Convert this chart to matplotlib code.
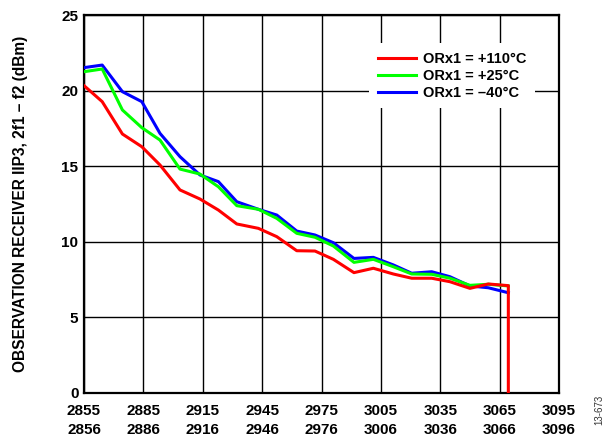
from matplotlib import pyplot as plt
import numpy as np

freq = [2855, 2864.2, 2874.4, 2884.2, 2893.4, 2903.5, 2913.6, 2922.9, 2932.2,
        2943.1, 2952.4, 2962.5, 2971.7, 2981.0, 2991.4, 3001.2, 3011.3, 3020.6,
        3030.7, 3039.9, 3050.0, 3059.3, 3069.4]

# IIP3 (dBm) per temperature
iip3_hot = [20.33, 19.27, 17.13, 16.29, 15.08, 13.43, 12.83, 12.1, 11.18,
            10.89, 10.34, 9.41, 9.39, 8.84, 7.96, 8.25, 7.87, 7.59,
            7.59, 7.36, 6.92, 7.21, 7.1]
iip3_room = [21.25, 21.43, 18.72, 17.55, 16.73, 14.81, 14.48, 13.64, 12.39,
             12.15, 11.55, 10.56, 10.3, 9.72, 8.64, 8.84, 8.35, 7.87,
             7.85, 7.59, 7.12, 7.19, 7.08]
iip3_cold = [21.52, 21.69, 19.93, 19.27, 17.17, 15.63, 14.42, 13.98, 12.65,
             12.15, 11.77, 10.71, 10.45, 9.94, 8.9, 8.97, 8.47, 7.92,
             8.02, 7.69, 7.08, 6.96, 6.63]
hot_drop = 0.0  # red trace falls to 0 at the last frequency

xticks = [2855, 2885, 2915, 2945, 2975, 3005, 3035, 3065, 3095]
xlabels = ["2855\n2856", "2885\n2886", "2915\n2916", "2945\n2946", "2975\n2976",
           "3005\n3006", "3035\n3036", "3065\n3066", "3095\n3096"]
yticks = [0, 5, 10, 15, 20, 25]

plt.rcParams['font.family'] = ['Liberation Sans', 'DejaVu Sans']
plt.rcParams['font.weight'] = 'bold'

fig = plt.figure(figsize=(6.1, 4.43), dpi=100)
ax = fig.add_axes([0.1377, 0.1129, 0.7787, 0.8532])

ax.plot(freq, iip3_cold, color='#0000ff', lw=2.2, label='ORx1 = \u201340\u00b0C', zorder=3)
ax.plot(freq, iip3_room, color='#00ff00', lw=2.2, label='ORx1 = +25\u00b0C', zorder=4)
ax.plot(freq + [freq[-1]], iip3_hot + [hot_drop], color='#ff0000', lw=2.2,
        label='ORx1 = +110\u00b0C', zorder=5)

ax.set_xlim(2855, 3095)
ax.set_ylim(0, 25)
ax.set_xticks(xticks)
ax.set_xticklabels(xlabels, fontsize=11, fontweight='bold', linespacing=1.45)
ax.set_yticks(yticks)
ax.set_yticklabels([str(v) for v in yticks], fontsize=11, fontweight='bold')
ax.tick_params(axis='x', length=0, pad=8)
ax.tick_params(axis='y', length=0, pad=4)
ax.grid(True, color='black', lw=1.0)
ax.set_axisbelow(True)
for s in ax.spines.values():
    s.set_linewidth(1.6)

ax.set_ylabel("OBSERVATION RECEIVER IIP3, 2f1 \u2013 f2 (dBm)", fontsize=11.2,
              fontweight='bold', labelpad=24)

handles, labels = ax.get_legend_handles_labels()
leg = ax.legend(handles[::-1], labels[::-1], loc='upper left',
                bbox_to_anchor=(0.585, 0.945), frameon=True, fancybox=False,
                edgecolor='none', framealpha=1, handlelength=2.6,
                handletextpad=0.5, labelspacing=0.2, borderpad=0.6,
                prop={'size': 10.5, 'weight': 'bold'})
leg.set_zorder(10)

fig.text(0.982, 0.04, "13-673", rotation=90, fontsize=7, color='#333333',
         fontweight='normal', ha='center', va='bottom')

plt.savefig("out.png", dpi=100)
